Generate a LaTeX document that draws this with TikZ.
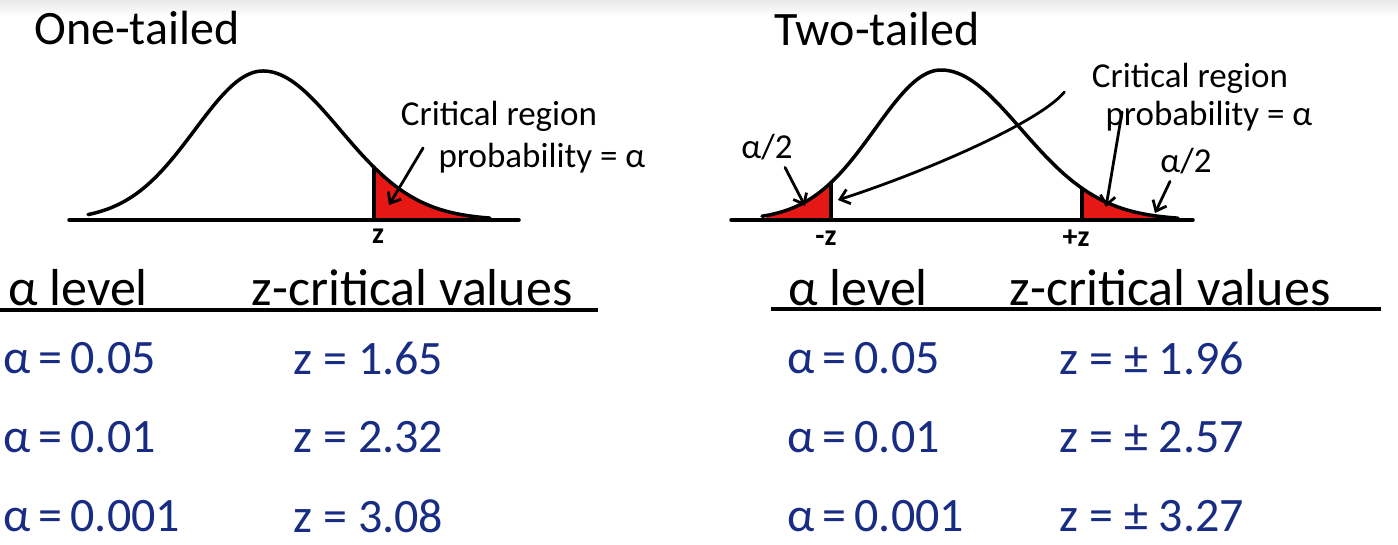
\documentclass[tikz,border=0pt]{standalone}
\usepackage{fontspec}
\setmainfont{Carlito}
\usetikzlibrary{arrows.meta,calc}
\definecolor{inkBlue}{RGB}{24,44,132}
\definecolor{tailRed}{RGB}{230,24,22}
\newcommand{\fsz}[1]{\fontsize{#1}{#1}\selectfont}

\begin{document}
\begin{tikzpicture}[x=1pt,y=-1pt,
    curve/.style={line width=3.5pt,line cap=round,line join=round},
    rule/.style={line width=3.5pt},
    pointer/.style={line width=2.8pt,line cap=round,
      -{Straight Barb[length=9pt,width=15pt,line width=2.8pt]}},
    title/.style={font=\fsz{48}},
    note/.style={font=\fsz{35}},
    zlab/.style={font=\fsz{30}\bfseries},
    head/.style={font=\fsz{52}},
    val/.style={font=\fsz{48},text=inkBlue,anchor=west},
    declare function={
      oneT(\u)=220-149*exp(-0.5*((\u-263)/ifthenelse(\u<263,68,77))^2);
      twoT(\u)=220-150*exp(-0.5*((\u-941)/ifthenelse(\u<941,66,80))^2);
    }]
  \useasboundingbox (0,0) rectangle (1398,544);
  \fill[top color=black!9,bottom color=white] (0,0) rectangle (1398,16);

  % one-tailed curve
  \fill[tailRed] (374,220) -- plot[domain=374:490,samples=30] (\x,{oneT(\x)}) -- (490,220) -- cycle;
  \draw[curve] plot[domain=88:490,samples=120,smooth] (\x,{oneT(\x)});
  \draw[curve] (69,220) -- (519,220);
  \draw[curve] (374,220) -- (374,{oneT(374)});

  \node[title] (oneTitle) at (137,28) {One-tailed};
  \node[note] (critL) at (499,116) {Critical region};
  \node[note] (probL) at (542,158) {probability = α};
  \node[zlab] (zL) at (378,236) {z};
  \coordinate (tipL) at (389,205);
  \draw[pointer] ($(probL.west)+(-12,-10)$) -- (tipL);

  % two-tailed curve
  \fill[tailRed] (831,220) -- plot[domain=831:766,samples=30] (\x,{twoT(\x)}) -- (766,220) -- cycle;
  \fill[tailRed] (1082,220) -- plot[domain=1082:1176,samples=30] (\x,{twoT(\x)}) -- (1176,220) -- cycle;
  \draw[curve] plot[domain=762:1178,samples=150,smooth] (\x,{twoT(\x)});
  \draw[curve] (731,220) -- (1193,220);
  \draw[curve] (831,220) -- (831,{twoT(831)});
  \draw[curve] (1082,220) -- (1082,{twoT(1082)});

  \node[title] (twoTitle) at (877,29) {Two-tailed};
  \node[note] (critR) at (1190,78) {Critical region};
  \node[note] (probR) at (1209,116) {probability = α};
  \node[note] (halfL) at (767,147) {α/2};
  \node[note] (halfR) at (1186,161) {α/2};
  \node[zlab] (zminus) at (826,238) {-z};
  \node[zlab] (zplus) at (1076,238) {+z};
  \coordinate (tipM) at (838,200);
  \coordinate (tipA) at (805,206);
  \coordinate (tipB) at (1106,207);
  \coordinate (tipC) at (1155,213);
  \draw[pointer] ($(critR.west)+(-24,14)$) .. controls (1040,122) and (925,172) .. (tipM);
  \draw[pointer] ($(halfL.south)+(18,4)$) -- (tipA);
  \draw[pointer] ($(probR.west)+(20,-4)$) -- (tipB);
  \draw[pointer] ($(halfR.south)+(-16,4)$) -- (tipC);

  % tables
  \node[head] (lvlL) at (78,288) {α level};
  \node[head] (zcL) at (412,288) {z-critical values};
  \draw[rule] (0,310) -- (598,310);
  \node[head] (lvlR) at (858,288) {α level};
  \node[head] (zcR) at (1170,288) {z-critical values};
  \draw[rule] (771,309) -- (1381,309);

  \foreach \a/\z [count=\i from 0] in {0.05/1.65,0.01/2.32,0.001/3.08} {
    \pgfmathsetmacro{\y}{358+79*\i}
    \node[val] (aL\i) at (0,\y) {α\,=\,\a};
    \node[val] (zL\i) at (290,\y) {z = \z};
  }
  \foreach \a/\z [count=\i from 0] in {0.05/1.96,0.01/2.57,0.001/3.27} {
    \pgfmathsetmacro{\y}{358+79*\i}
    \node[val] (aR\i) at (784,\y) {α\,=\,\a};
    \node[val] (zR\i) at (1056,\y) {z = ± \z};
  }
\end{tikzpicture}
\end{document}
